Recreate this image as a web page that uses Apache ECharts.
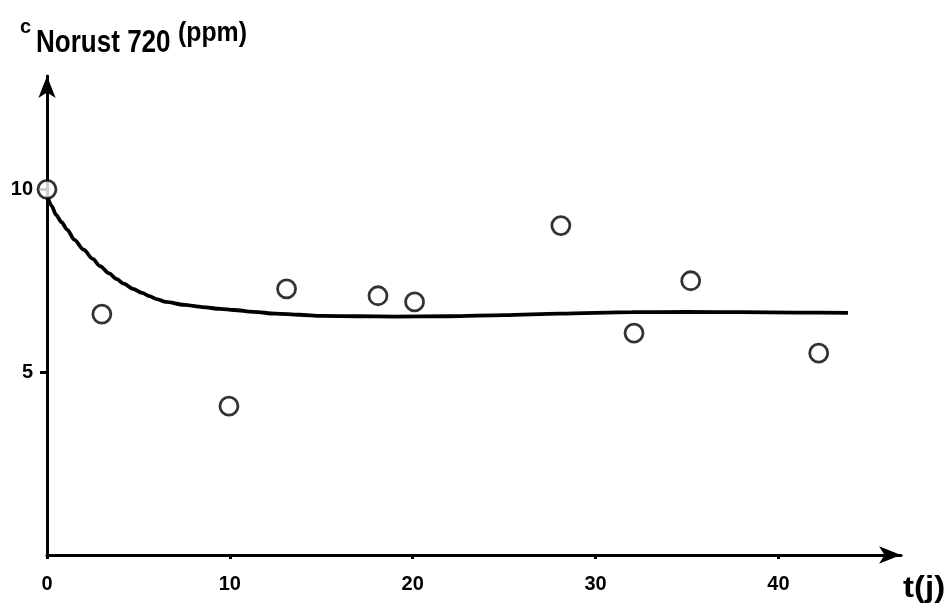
<!DOCTYPE html>
<html><head><meta charset="utf-8">
<script src="https://cdn.jsdelivr.net/npm/echarts@6/dist/echarts.min.js"></script>
<style>html,body{margin:0;padding:0;background:#fff}#c{width:949px;height:606px}</style>
</head><body><div id="c"></div>
<script>
const xTicks = [0, 10, 20, 30, 40];
const yTicks = [5, 10];
const measT = [0, 3.0, 9.95, 13.1, 18.1, 20.1, 28.1, 32.1, 35.2, 42.2];
const measC = [10.0, 6.59, 4.07, 7.28, 7.09, 6.92, 9.01, 6.07, 7.50, 5.52];
const fitT = [0, 0.25, 0.5, 0.8, 1.1, 1.5, 2.0, 2.5, 2.9, 3.4, 3.8, 4.2, 4.7, 5.2, 5.6, 6.0, 6.5, 7.5, 8.5, 9.5, 10.2, 11.3, 12.5, 13.8, 15, 17, 19, 22, 25, 28, 32, 35, 38, 41, 43.8];
const fitC = [9.85, 9.55, 9.3, 9.1, 8.9, 8.62, 8.35, 8.1, 7.9, 7.7, 7.55, 7.42, 7.28, 7.17, 7.08, 7.0, 6.92, 6.84, 6.78, 6.73, 6.70, 6.65, 6.60, 6.57, 6.54, 6.53, 6.52, 6.53, 6.56, 6.6, 6.64, 6.65, 6.64, 6.63, 6.62];
const titleMain = 'Norust 720';

const chart = echarts.init(document.getElementById('c'));
const F = '"Liberation Sans", Arial, sans-serif';
chart.setOption({
  animation: false,
  backgroundColor: '#fff',
  grid: { left: 47, right: 48, top: 76, bottom: 51, containLabel: false },
  xAxis: {
    type: 'value', min: 0, max: 46.7,
    splitLine: { show: false },
    axisLine: { lineStyle: { color: '#000', width: 3 }, symbol: ['none', 'arrow'], symbolSize: [13, 22] },
    axisTick: { customValues: xTicks, length: 4, inside: false, lineStyle: { color: '#000', width: 3 } },
    axisLabel: { customValues: xTicks, margin: 19, color: '#000', fontFamily: F, fontWeight: 'bold', fontSize: 20 }
  },
  yAxis: {
    type: 'value', min: 0, max: 13.1,
    splitLine: { show: false },
    axisLine: { onZero: false, lineStyle: { color: '#000', width: 3 }, symbol: ['none', 'arrow'], symbolSize: [13, 22] },
    axisTick: { customValues: yTicks, length: 7, lineStyle: { color: '#000', width: 3 } },
    axisLabel: { customValues: yTicks, margin: 14, color: '#000', fontFamily: F, fontWeight: 'bold', fontSize: 20 }
  },
  series: [
    {
      type: 'line', data: fitT.map((t, i) => [t, fitC[i]]), smooth: 0.3, smoothMonotone: 'x', showSymbol: false,
      lineStyle: { color: '#000', width: 3.8 }, z: 2
    },
    {
      type: 'scatter', data: measT.map((t, i) => [t, measC[i]]), symbol: 'circle', symbolSize: 18,
      itemStyle: { color: '#fff', borderColor: '#000', borderWidth: 2.8 }, z: 3
    }
  ],
  graphic: [
    { type: 'text', x: 20, y: 27, style: { text: 'c', font: 'bold 20px ' + F, fill: '#000', verticalAlign: 'middle' } },
    { type: 'text', x: 36, y: 43, scaleX: 0.84, style: { text: titleMain, font: 'bold 31px ' + F, fill: '#000', verticalAlign: 'middle' } },
    { type: 'text', x: 178, y: 34, scaleX: 0.92, style: { text: '(ppm)', font: 'bold 27px ' + F, fill: '#000', verticalAlign: 'middle' } },
    { type: 'text', x: 903, y: 589, scaleX: 1.1, style: { text: 't(j)', font: 'bold 30px ' + F, fill: '#000', verticalAlign: 'middle' } }
  ]
});
</script></body></html>
